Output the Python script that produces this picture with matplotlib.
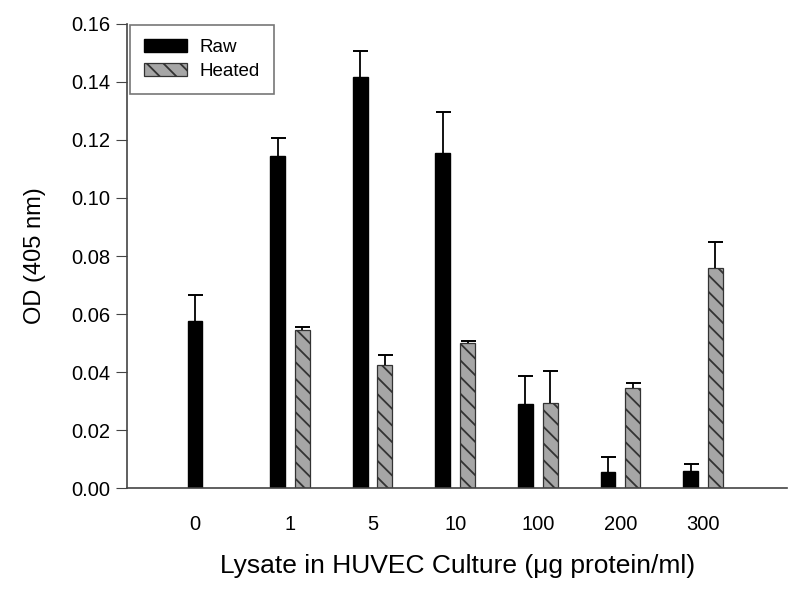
import matplotlib
matplotlib.use('Agg')
import matplotlib.pyplot as plt
import numpy as np

plt.rcParams['font.family'] = ['Liberation Sans', 'DejaVu Sans']
plt.rcParams['hatch.linewidth'] = 1.3
plt.rcParams['hatch.color'] = '#2a2a2a'

doses = ['0', '1', '5', '10', '100', '200', '300']
raw_mean = [0.0575, 0.1145, 0.1415, 0.1155, 0.0290, 0.0056, 0.0060]
raw_err = [0.0090, 0.0060, 0.0090, 0.0140, 0.0095, 0.0050, 0.0025]
heated_mean = [np.nan, 0.0545, 0.0425, 0.0500, 0.0295, 0.0347, 0.0757]
heated_err = [np.nan, 0.0010, 0.0035, 0.0008, 0.0108, 0.0016, 0.0090]

x = np.arange(len(doses))
width = 0.18
offset = 0.15

fig = plt.figure(figsize=(8, 5.94), dpi=100)
ax = fig.add_axes([0.159, 0.178, 0.825, 0.782])

err_kw = dict(ecolor='black', elinewidth=1.3, capsize=5.4, capthick=1.4)
raw = ax.bar(x - offset, raw_mean, width, color='black', edgecolor='black',
             yerr=[np.zeros(len(x)), raw_err], error_kw=err_kw, label='Raw')
heated = ax.bar(x + offset, heated_mean, width, color='#a6a6a6',
                edgecolor='#333333', linewidth=0.9, hatch='\\\\',
                yerr=[np.zeros(len(x)), heated_err], error_kw=err_kw,
                label='Heated')

# only the upper caps are drawn in the original
for cont in (raw, heated):
    caps = cont.errorbar.lines[1]
    caps[0].set_visible(False)

ax.set_xlim(-0.97, 7.02)
ax.set_ylim(0, 0.16)
yt = np.arange(0, 0.161, 0.02)
ax.set_yticks(yt)
ax.set_yticklabels(['%.2f' % v for v in yt])

# first group has only the raw bar, its label sits under it
ticks = x.astype(float)
ticks[0] = x[0] - offset
ax.set_xticks(ticks)
ax.set_xticklabels(doses)

ax.spines['top'].set_visible(False)
ax.spines['right'].set_visible(False)
for s in ['left', 'bottom']:
    ax.spines[s].set_color('#444444')
    ax.spines[s].set_linewidth(1.2)
ax.tick_params(axis='y', direction='out', length=8, color='#444444',
               labelsize=14.5, pad=4)
ax.tick_params(axis='x', length=0, labelsize=14.5, pad=19)

ax.set_ylabel('OD (405 nm)', fontsize=17, labelpad=18)
ax.set_xlabel('Lysate in HUVEC Culture (\u03bcg protein/ml)', fontsize=19,
              labelpad=15)

leg = ax.legend(loc='upper left', bbox_to_anchor=(0.004, 0.998), fontsize=13.5,
                fancybox=False, edgecolor='#555555', handlelength=2.3,
                handleheight=0.72, borderpad=0.75, labelspacing=0.35,
                handletextpad=0.65, borderaxespad=0)
leg.get_frame().set_linewidth(1.2)

fig.savefig('out.png', dpi=100)
